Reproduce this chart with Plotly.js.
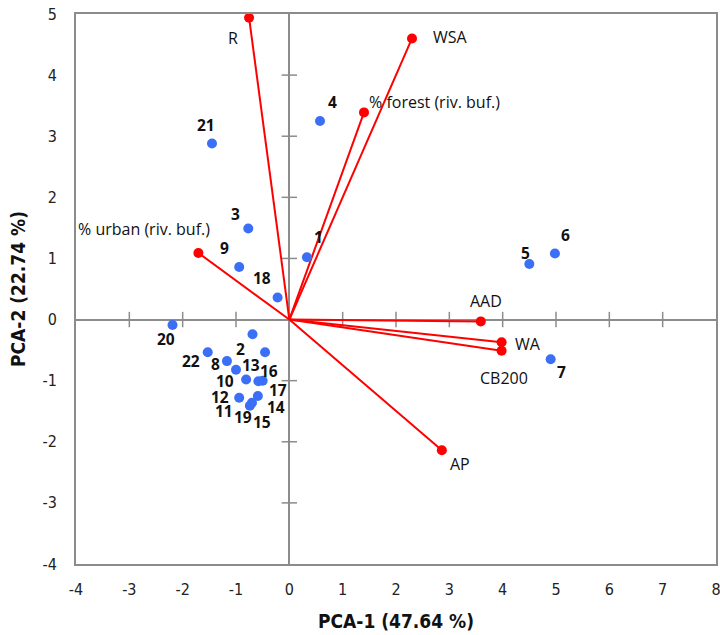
<!DOCTYPE html>
<html>
<head>
<meta charset="utf-8">
<script src="https://cdn.plot.ly/plotly-3.0.1.min.js"></script>
<style>html,body{margin:0;padding:0;background:#fff;}#chart{width:720px;height:635px;}</style>
</head>
<body>
<div id="chart"></div>
<script>
// Sample scores (blue points)
const siteLabels = ['21','4','3','9','18','1','5','6','7','20','2','22','8','10','13','16','17','11','12','14','19','15'];
const siteX = [-1.45, 0.575, -0.77, -0.94, -0.22, 0.33, 4.50, 4.98, 4.90, -2.19, -0.69, -1.53, -1.17, -1.00, -0.81, -0.455, -0.50, -0.58, -0.94, -0.59, -0.74, -0.70];
const siteY = [2.88, 3.25, 1.49, 0.86, 0.36, 1.02, 0.91, 1.08, -0.65, -0.09, -0.24, -0.535, -0.68, -0.82, -0.98, -0.535, -1.00, -1.01, -1.28, -1.25, -1.41, -1.36];
// Label offsets in pixels (dx, dy up)
const siteDX = [-6, 12, -13, -15, -16, 12, -4, 11, 11, -7, -12, -17, -11, -11, 5, 4, 15, -34, -19, 18, -7, 10];
const siteDY = [19, 19, 15, 19, 20, 20, 11, 19, -13, -14, -15, -9, -3, -11, 14, -19, -9, -30, 1, -11, -11, -19];

// Variable loadings (red vectors)
const varLabels = ['R', 'WSA', '% forest (riv. buf.)', '% urban (riv. buf.)', 'AAD', 'WA', 'CB200', 'AP'];
const varX = [-0.755, 2.30, 1.40, -1.705, 3.59, 3.98, 3.98, 2.86];
const varY = [4.94, 4.60, 3.39, 1.09, -0.03, -0.37, -0.51, -2.14];
const varDX = [-16, 38, 70, -54, 5, 26, 2, 18];
const varDY = [-20, 1, 10, 24, 20, -2, -27, -14];

// Axis ticks
const xTicks = [-4, -3, -2, -1, 0, 1, 2, 3, 4, 5, 6, 7, 8];
const yTicks = [-4, -3, -2, -1, 0, 1, 2, 3, 4, 5];

const gray = '#8c8c8c';
const narrow = '"Liberation Sans Narrow", "Arial Narrow", "DejaVu Sans Condensed", sans-serif';
const labelFont = '"Open Sans", Lato, sans-serif';

// vector lines
const lx = [], ly = [];
varX.forEach((v, i) => { lx.push(0, v, null); ly.push(0, varY[i], null); });

const innerX = xTicks.filter(v => v !== 0 && v !== xTicks[0] && v !== xTicks[xTicks.length - 1]);
const innerY = yTicks.filter(v => v !== 0 && v !== yTicks[0] && v !== yTicks[yTicks.length - 1]);

const traces = [
  { // cross ticks on zero axes
    x: innerX, y: innerX.map(() => 0),
    mode: 'markers', type: 'scatter', hoverinfo: 'skip',
    marker: { symbol: 'line-ns', size: 11, line: { color: gray, width: 1.5 } }
  },
  {
    x: innerY.map(() => 0), y: innerY,
    mode: 'markers', type: 'scatter', hoverinfo: 'skip',
    marker: { symbol: 'line-ew', size: 11, line: { color: gray, width: 1.5 } }
  },
  {
    x: lx, y: ly, mode: 'lines', type: 'scatter', hoverinfo: 'skip',
    line: { color: '#ff0000', width: 2 }
  },
  {
    x: varX, y: varY, mode: 'markers', type: 'scatter',
    marker: { color: '#ff0000', size: 10 }
  },
  {
    x: siteX, y: siteY, mode: 'markers', type: 'scatter',
    marker: { color: '#3b6ff5', size: 10 }
  }
];

const annotations = [];
siteLabels.forEach((t, i) => annotations.push({
  x: siteX[i], y: siteY[i], text: '<b>' + t + '</b>', showarrow: false,
  xshift: siteDX[i], yshift: siteDY[i], font: { family: labelFont, size: 15.5, color: '#111' }
}));
varLabels.forEach((t, i) => annotations.push({
  x: varX[i], y: varY[i], text: t, showarrow: false,
  xshift: varDX[i], yshift: varDY[i], font: { family: labelFont, size: 16, color: '#111' }
}));

const layout = {
  width: 720, height: 635,
  margin: { l: 76, r: 4, t: 14, b: 71, pad: 0 },
  paper_bgcolor: '#fff', plot_bgcolor: '#fff',
  showlegend: false,
  xaxis: {
    range: [-4, 8], tickvals: xTicks, ticktext: xTicks.map(String),
    showgrid: false, zeroline: true, zerolinecolor: gray, zerolinewidth: 2,
    showline: true, mirror: true, linecolor: gray, linewidth: 2,
    ticks: 'outside', ticklen: 10, tickcolor: 'rgba(0,0,0,0)',
    ticklabeloverflow: 'allow',
    tickfont: { family: narrow, size: 16, color: '#222' },
    title: { text: '<b>PCA-1 (47.64 %)</b>', font: { family: narrow, size: 19, color: '#111' }, standoff: 16 }
  },
  yaxis: {
    range: [-4, 5], tickvals: yTicks, ticktext: yTicks.map(String),
    showgrid: false, zeroline: true, zerolinecolor: gray, zerolinewidth: 2,
    showline: true, mirror: true, linecolor: gray, linewidth: 2,
    ticks: 'outside', ticklen: 14, tickcolor: 'rgba(0,0,0,0)',
    ticklabeloverflow: 'allow',
    tickfont: { family: narrow, size: 16, color: '#222' },
    title: { text: '<b>PCA-2 (22.74 %)</b>', font: { family: narrow, size: 19, color: '#111' }, standoff: 12 }
  },
  annotations: annotations
};

Plotly.newPlot('chart', traces, layout, { displayModeBar: false, staticPlot: true });
</script>
</body>
</html>
